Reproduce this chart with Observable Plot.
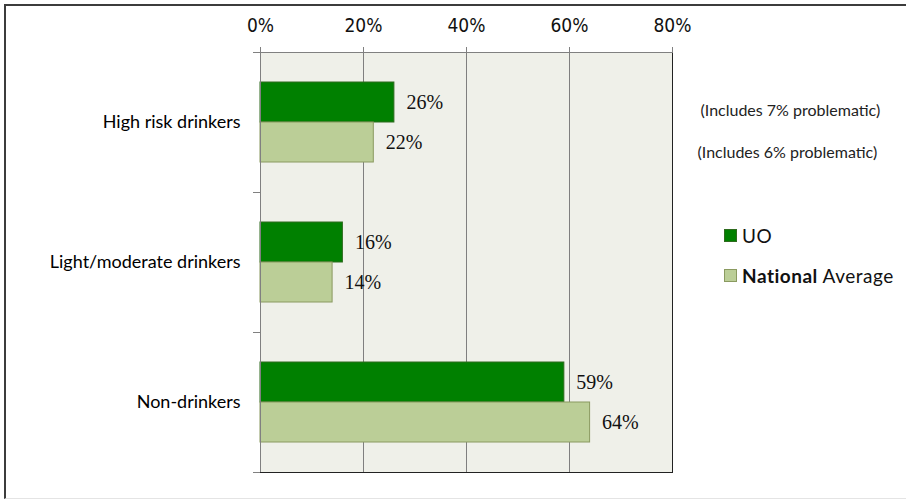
<!DOCTYPE html>
<html>
<head>
<meta charset="utf-8">
<script src="https://cdn.jsdelivr.net/npm/d3@7"></script>
<script src="https://cdn.jsdelivr.net/npm/@observablehq/plot@0.6"></script>
<style>
  html, body { margin: 0; padding: 0; background: #fff; overflow: hidden; }
  #wrap { position: relative; width: 906px; height: 500px; overflow: hidden; }
  #border { position: absolute; left: 4px; top: 4px; width: 960px; height: 492px;
            border-left: 2px solid #3c3c3c; border-top: 2px solid #3c3c3c; border-bottom: 1px solid #e4e4e4; }
  #chart { position: absolute; left: 0; top: 0; }
  #chart g[aria-label="x-axis tick label"], #chart g[aria-label="x-axis tick label"] text {
    font-family: "DejaVu Sans" !important; font-stretch: condensed !important; }
  #legend { position: absolute; left: 724px; top: 221px; font-family: Lato, sans-serif; font-size: 19px; color: #111; letter-spacing: 0.5px; }
  .item { display: flex; align-items: center; height: 28px; margin-bottom: 12px; }
  .sw { width: 13px; height: 13px; margin-right: 5px; box-sizing: border-box; }
</style>
</head>
<body>
<div id="wrap">
  <div id="border"></div>
  <div id="chart"></div>
  <div id="legend"></div>
</div>
<script>
const categories = ["High risk drinkers", "Light/moderate drinkers", "Non-drinkers"];
const seriesNames = ["UO", "National Average"];
const uoValues = [0.26, 0.16, 0.59];
const nationalValues = [0.22, 0.14, 0.64];
const xTicks = [0, 0.2, 0.4, 0.6, 0.8];
const notes = ["(Includes 7% problematic)", "(Includes 6% problematic)"];
const seriesColors = ["#008000", "#BBCE97"];
const seriesStrokes = ["#2E6B1E", "#8A9A60"];

const uoData = categories.map((c, i) => ({category: c, series: seriesNames[0], value: uoValues[i]}));
const natData = categories.map((c, i) => ({category: c, series: seriesNames[1], value: nationalValues[i]}));
const fmt = d3.format(".0%");

const plot = Plot.plot({
  width: 906,
  height: 500,
  marginTop: 52,
  marginBottom: 28,
  marginLeft: 260,
  marginRight: 234,
  style: {background: "transparent", fontFamily: "Lato, sans-serif"},
  x: {domain: [0, 0.8]},
  y: {domain: categories, padding: 0},
  marks: [
    Plot.frame({fill: "#EFF0E9", stroke: null}),
    Plot.gridX(xTicks.slice(1, -1), {stroke: "#7f7f7f", strokeOpacity: 1}),
    Plot.barX(uoData, {y: "category", x: "value", fill: seriesColors[0], stroke: seriesStrokes[0], insetTop: 30, insetBottom: 70}),
    Plot.barX(natData, {y: "category", x: "value", fill: seriesColors[1], stroke: seriesStrokes[1], insetTop: 70, insetBottom: 30}),
    Plot.text(uoData, {y: "category", x: "value", text: d => fmt(d.value), dx: 12, dy: -20, textAnchor: "start",
      fontSize: 20, fontFamily: "Liberation Serif", fill: "#111"}),
    Plot.text(natData, {y: "category", x: "value", text: d => fmt(d.value), dx: 12, dy: 20, textAnchor: "start",
      fontSize: 20, fontFamily: "Liberation Serif", fill: "#111"}),
    Plot.text([{category: categories[0], note: notes[0]}], {y: "category", text: "note", frameAnchor: "right",
      dx: 28, dy: -12, textAnchor: "start", fontSize: 16, fontFamily: "Lato", fill: "#222"}),
    Plot.text([{category: categories[0], note: notes[1]}], {y: "category", text: "note", frameAnchor: "right",
      dx: 25, dy: 30, textAnchor: "start", fontSize: 16, fontFamily: "Lato", fill: "#222"}),
    Plot.frame({anchor: "left", stroke: "#808080"}),
    Plot.frame({anchor: "top", stroke: "#808080"}),
    Plot.frame({anchor: "right", stroke: "#222"}),
    Plot.frame({anchor: "bottom", stroke: "#222"}),
    Plot.axisX({anchor: "top", ticks: xTicks, tickFormat: fmt, tickSize: 6, tickPadding: 15, label: null,
      fontSize: 19, fontFamily: "DejaVu Sans", stroke: "#808080", fill: "#111"}),
    Plot.axisY({anchor: "left", tickSize: 0, tickPadding: 20, label: null, fontSize: 18, fontFamily: "Lato", fill: "#000"}),
    Plot.axisY({anchor: "left", tickSize: 7, tickFormat: () => "", label: null, dy: 70, stroke: "#808080"}),
    Plot.axisY({anchor: "left", tickSize: 7, tickFormat: () => "", label: null, dy: -70, stroke: "#808080"})
  ]
});
document.getElementById("chart").appendChild(plot);

const legend = document.getElementById("legend");
seriesNames.forEach((name, i) => {
  const item = document.createElement("div");
  item.className = "item";
  const sw = document.createElement("span");
  sw.className = "sw";
  sw.style.background = seriesColors[i];
  sw.style.border = "1px solid " + seriesStrokes[i];
  item.appendChild(sw);
  const label = document.createElement("span");
  const parts = name.split(" ");
  const b = document.createElement("b");
  b.textContent = parts[0];
  label.appendChild(b);
  if (parts.length > 1) label.appendChild(document.createTextNode(" " + parts.slice(1).join(" ")));
  if (i === 0) b.style.fontWeight = "normal";
  item.appendChild(label);
  legend.appendChild(item);
});
</script>
</body>
</html>
